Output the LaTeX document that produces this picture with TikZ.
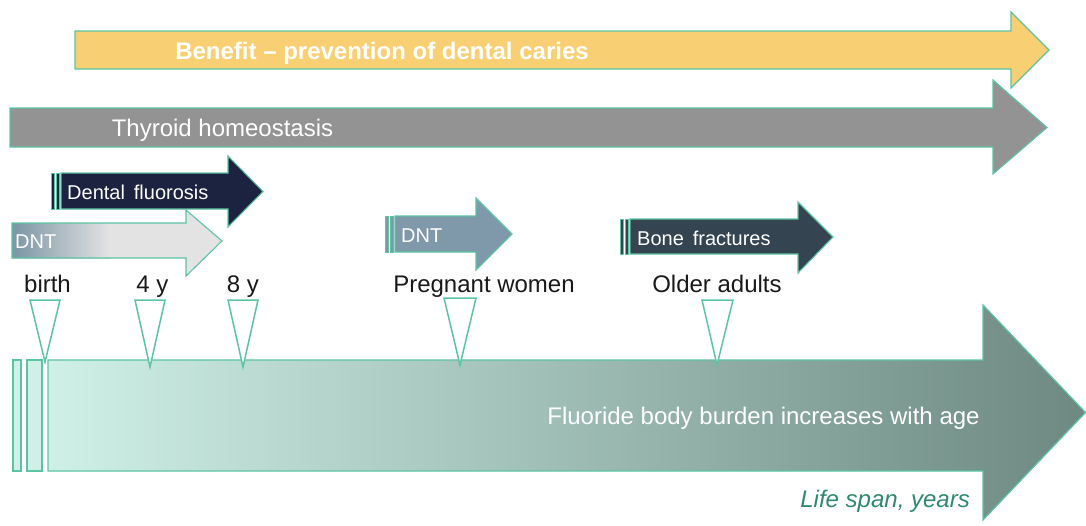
\documentclass[tikz,border=0pt]{standalone}
\usepackage{fontspec}
\setmainfont{Liberation Sans}
\definecolor{outl}{HTML}{5CC4A2}
\definecolor{benefit}{HTML}{F8CF72}
\definecolor{thyroid}{HTML}{939393}
\definecolor{fluor}{HTML}{1C2340}
\definecolor{dntA}{HTML}{7B95A4}
\definecolor{dntB}{HTML}{E3E3E3}
\definecolor{dntC}{HTML}{7F98AA}
\definecolor{bone}{HTML}{344450}
\definecolor{mintA}{HTML}{CFF0E7}
\definecolor{mintB}{HTML}{6D8981}
\definecolor{lifec}{HTML}{2E8A6C}
\tikzset{
  band/.style={draw=outl, line width=1.1pt, line join=miter},
  stripe/.style={draw=outl, line width=1pt},
  tick/.style={draw=outl, fill=white, line width=1.5pt, line join=miter},
  bigtxt/.style={font=\fontsize{24}{28}\selectfont, inner sep=0pt},
  smalltxt/.style={font=\fontsize{20}{24}\selectfont, inner sep=0pt, text=white},
}
\begin{document}
\begin{tikzpicture}[x=1pt,y=-1pt]
\useasboundingbox (0,0) rectangle (1086,525);
% Benefit
\path[band, fill=benefit] (75,31)--(1011,31)--(1011,12)--(1049,50)--(1011,88)--(1011,69)--(75,69)--cycle;
\node[bigtxt, text=white, font=\fontsize{24}{28}\bfseries, anchor=base] (ben) at (382,59.5) {Benefit – prevention of dental caries};
% Thyroid
\path[band, fill=thyroid] (10,108)--(993,108)--(993,80)--(1047,127.5)--(993,174)--(993,147)--(10,147)--cycle;
\node[bigtxt, text=white, anchor=base] (thy) at (222.5,136.5) {Thyroid homeostasis};
% DNT 1
\begin{scope}
\clip (12,223)--(186,223)--(186,210)--(222,241)--(186,276)--(186,258)--(12,258)--cycle;
\fill[left color=dntA, right color=dntB] (12,200) rectangle (110,280);
\fill[dntB] (109.5,200) rectangle (230,280);
\end{scope}
\path[band] (12,223)--(186,223)--(186,210)--(222,241)--(186,276)--(186,258)--(12,258)--cycle;
\node[smalltxt, anchor=base west] (dnt1) at (15,248) {DNT};
% Dental fluorosis
\path[stripe, fill=fluor] (51,173) rectangle (54,209);
\path[stripe, fill=fluor] (56,173) rectangle (59,209);
\path[band, fill=fluor] (61,173)--(228,173)--(228,156)--(263,191.5)--(228,227)--(228,209)--(61,209)--cycle;
\node[smalltxt, anchor=base west] (flu) at (67,199) {Dental\, fluorosis};
% DNT 2
\path[stripe, fill=dntC] (385,216) rectangle (388,252);
\path[stripe, fill=dntC] (390,216) rectangle (393,252);
\path[band, fill=dntC] (395,216)--(476,216)--(476,198)--(512,234)--(476,270)--(476,252)--(395,252)--cycle;
\node[smalltxt, anchor=base west] (dnt2) at (401,242.5) {DNT};
% Bone fractures
\path[stripe, fill=bone] (620,219) rectangle (623,254);
\path[stripe, fill=bone] (625,219) rectangle (628,254);
\path[band, fill=bone] (630,219)--(798,219)--(798,202)--(833,237)--(798,273)--(798,254)--(630,254)--cycle;
\node[smalltxt, anchor=base west] (bone) at (637,245) {Bone\, fractures};
% labels
\node[bigtxt, text=black!90, anchor=base] (birth) at (47.5,292) {birth};
\node[bigtxt, text=black!90, anchor=base] (y4) at (152.5,292) {4 y};
\node[bigtxt, text=black!90, anchor=base] (y8) at (243,292) {8 y};
\node[bigtxt, text=black!90, anchor=base] (preg) at (484,292) {Pregnant women};
\node[bigtxt, text=black!90, anchor=base] (old) at (717,292) {Older adults};
% bottom arrow
\path[band, line width=1.2pt, fill=mintA] (13,360) rectangle (21,471);
\path[band, line width=1.2pt, fill=mintA] (27,360) rectangle (42,471);
\path[band, line width=1.2pt, left color=mintA, right color=mintB] (48,360)--(983,360)--(983,305)--(1085.5,412.5)--(983,520)--(983,471)--(48,471)--cycle;
\node[bigtxt, text=white, anchor=base] (burden) at (763.5,424) {Fluoride body burden increases with age};
\node[bigtxt, text=lifec, font=\fontsize{24}{28}\itshape, anchor=base east] (life) at (970,507) {Life span, years};
% ticks
\path[tick] (30,300)--(60,300)--(45,362)--cycle;
\path[tick] (135,300)--(165,300)--(150,367)--cycle;
\path[tick] (228,300)--(258,300)--(243,367)--cycle;
\path[tick] (444,298)--(476,298)--(460,365)--cycle;
\path[tick] (702,300)--(733,300)--(717,365)--cycle;
\end{tikzpicture}
\end{document}
